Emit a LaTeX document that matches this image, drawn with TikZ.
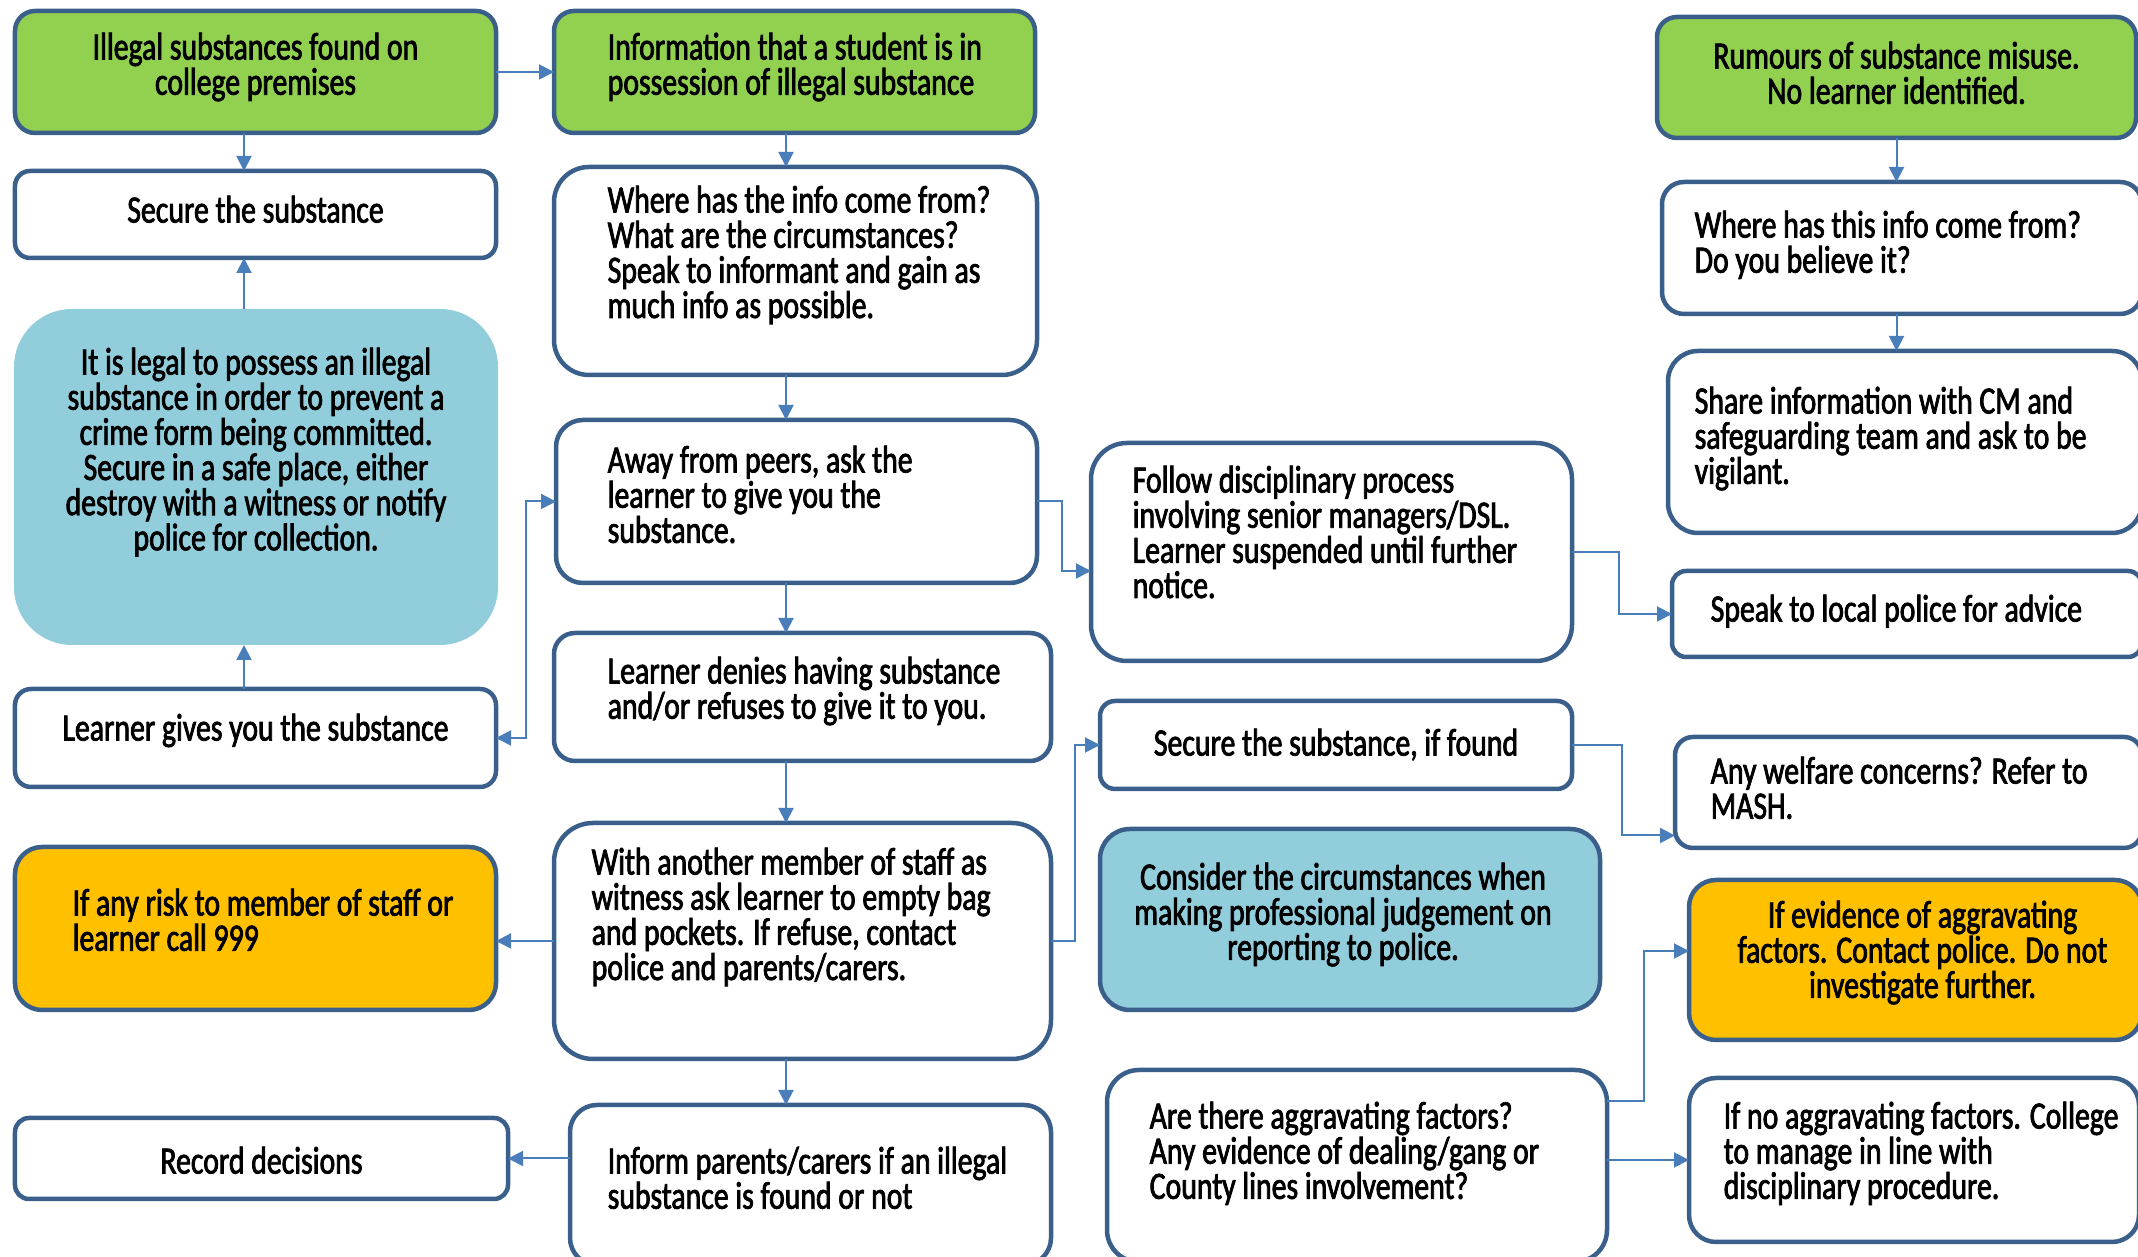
\documentclass[tikz,border=0pt]{standalone}
\usepackage{fontspec}
\newfontfamily\chartfont{Carlito}[FakeStretch=0.77, FakeBold=2]
\usepackage{tikz}
\usetikzlibrary{positioning,arrows.meta}
\definecolor{boxline}{HTML}{3A5F8B}
\definecolor{lnk}{HTML}{4A7EBB}
\definecolor{grn}{HTML}{92D050}
\definecolor{cyn}{HTML}{92CDDC}
\definecolor{amb}{HTML}{FFC000}

\begin{document}
\begin{tikzpicture}[bx/.style={draw=boxline, line width=0.045cm, fill=white, anchor=north west, inner sep=0pt, outer sep=0pt}, gr/.style={fill=grn}, bl/.style={fill=cyn}, am/.style={fill=amb}, tx/.style={inner sep=0pt, font=\chartfont\fontsize{11pt}{10pt}\selectfont}, ar/.style={draw=lnk, line width=0.02cm, -{Triangle[length=0.15cm, width=0.15cm]}}, ar2/.style={draw=lnk, line width=0.02cm, {Triangle[length=0.15cm, width=0.15cm]}-{Triangle[length=0.15cm, width=0.15cm]}}]
		\useasboundingbox (0,0) rectangle (21.38,-12.57);
		\clip (0,0) rectangle (21.38,-12.57);
		\coordinate (ax1) at (2.44,0);
		\coordinate (ax2) at (7.86,0);

		\node[bx, gr, minimum width=4.81cm, minimum height=1.22cm, rounded corners=0.2cm] (ill) at (0.15,-0.11) {};
		\node[tx, align=center, below=0.21cm of ill.north] (illT) {Illegal substances found on\\college premises};
		\node[bx, minimum width=4.81cm, minimum height=0.87cm, rounded corners=0.15cm] (sec) at (0.15,-1.71) {};
		\node[tx, below=0.24cm of sec.north] (secT) {Secure the substance};
		\node[bx, bl, draw=none, minimum width=4.84cm, minimum height=3.36cm, rounded corners=0.58cm] (legal) at (0.14,-3.09) {};
		\node[tx, align=center, below=0.38cm of legal.north] (legalT) {It is legal to possess an illegal\\substance in order to prevent a\\crime form being committed.\\Secure in a safe place, either\\destroy with a witness or notify\\police for collection.};
		\node[bx, minimum width=4.81cm, minimum height=0.98cm, rounded corners=0.16cm] (gives) at (0.15,-6.89) {};
		\node[tx, below=0.24cm of gives.north] (givesT) {Learner gives you the substance};
		\node[bx, am, minimum width=4.81cm, minimum height=1.63cm, rounded corners=0.27cm] (risk) at (0.15,-8.47) {};
		\node[tx, align=left, below right=0.41cm and 0.57cm of risk.north west] (riskT) {If any risk to member of staff or\\learner call 999};
		\node[bx, minimum width=4.93cm, minimum height=0.81cm, rounded corners=0.14cm] (record) at (0.15,-11.18) {};
		\node[tx, below=0.28cm of record.north] (recordT) {Record decisions};

		\node[bx, gr, minimum width=4.81cm, minimum height=1.22cm, rounded corners=0.2cm] (info) at (5.54,-0.11) {};
		\node[tx, align=left, below right=0.21cm and 0.53cm of info.north west] (infoT) {Information that a student is in\\possession of illegal substance};
		\node[bx, minimum width=4.83cm, minimum height=2.08cm, rounded corners=0.35cm] (where) at (5.54,-1.67) {};
		\node[tx, align=left, below right=0.18cm and 0.53cm of where.north west] (whereT) {Where has the info come from?\\What are the circumstances?\\Speak to informant and gain as\\much info as possible.};
		\node[bx, minimum width=4.81cm, minimum height=1.63cm, rounded corners=0.27cm] (away) at (5.56,-4.2) {};
		\node[tx, align=left, below right=0.25cm and 0.51cm of away.north west] (awayT) {Away from peers, ask the\\learner to give you the\\substance.};
		\node[bx, minimum width=4.97cm, minimum height=1.28cm, rounded corners=0.21cm] (denies) at (5.54,-6.33) {};
		\node[tx, align=left, below right=0.23cm and 0.53cm of denies.north west] (deniesT) {Learner denies having substance\\and/or refuses to give it to you.};
		\node[bx, minimum width=4.97cm, minimum height=2.36cm, rounded corners=0.39cm] (with) at (5.54,-8.23) {};
		\node[tx, align=left, below right=0.24cm and 0.37cm of with.north west] (withT) {With another member of staff as\\witness ask learner to empty bag\\and pockets. If refuse, contact\\police and parents/carers.};
		\node[bx, minimum width=4.81cm, minimum height=1.6cm, rounded corners=0.27cm] (inform) at (5.7,-11.05) {};
		\node[tx, align=left, below right=0.41cm and 0.37cm of inform.north west] (informT) {Inform parents/carers if an illegal\\substance is found or not};

		\node[bx, minimum width=4.81cm, minimum height=2.18cm, rounded corners=0.36cm] (follow) at (10.91,-4.43) {};
		\node[tx, align=left, below right=0.22cm and 0.41cm of follow.north west] (followT) {Follow disciplinary process\\involving senior managers/DSL.\\Learner suspended until further\\notice.};
		\node[bx, minimum width=4.72cm, minimum height=0.88cm, rounded corners=0.15cm] (sif) at (11,-7.01) {};
		\node[tx, below=0.27cm of sif.north] (sifT) {Secure the substance, if found};
		\node[bx, bl, minimum width=5cm, minimum height=1.81cm, rounded corners=0.3cm] (cons) at (11,-8.29) {};
		\node[tx, align=center, below=0.33cm of cons.north, xshift=-0.07cm] (consT) {Consider the circumstances when\\making professional judgement on\\reporting to police.};
		\node[bx, minimum width=5cm, minimum height=1.92cm, rounded corners=0.32cm] (are) at (11.07,-10.7) {};
		\node[tx, align=left, below right=0.31cm and 0.42cm of are.north west] (areT) {Are there aggravating factors?\\Any evidence of dealing/gang or\\County lines involvement?};

		\node[bx, gr, minimum width=4.79cm, minimum height=1.21cm, rounded corners=0.2cm] (rum) at (16.57,-0.17) {};
		\node[tx, align=center, below=0.24cm of rum.north] (rumT) {Rumours of substance misuse.\\No learner identified.};
		\node[bx, minimum width=4.8cm, minimum height=1.32cm, rounded corners=0.22cm] (wht) at (16.62,-1.82) {};
		\node[tx, align=left, below right=0.28cm and 0.32cm of wht.north west] (whtT) {Where has this info come from?\\Do you believe it?};
		\node[bx, minimum width=4.74cm, minimum height=1.82cm, rounded corners=0.3cm] (share) at (16.68,-3.51) {};
		\node[tx, align=left, below right=0.35cm and 0.26cm of share.north west] (shareT) {Share information with CM and\\safeguarding team and ask to be\\vigilant.};
		\node[bx, minimum width=4.7cm, minimum height=0.86cm, rounded corners=0.14cm] (speak) at (16.72,-5.71) {};
		\node[tx, below right=0.23cm and 0.38cm of speak.north west] (speakT) {Speak to local police for advice};
		\node[bx, minimum width=4.67cm, minimum height=1.11cm, rounded corners=0.18cm] (welf) at (16.75,-7.37) {};
		\node[tx, align=left, below right=0.19cm and 0.35cm of welf.north west] (welfT) {Any welfare concerns? Refer to\\MASH.};
		\node[bx, am, minimum width=4.53cm, minimum height=1.6cm, rounded corners=0.27cm] (evid) at (16.89,-8.8) {};
		\node[tx, align=center, below=0.2cm of evid.north, xshift=0.07cm] (evidT) {If evidence of aggravating\\factors. Contact police. Do not\\investigate further.};
		\node[bx, minimum width=4.5cm, minimum height=1.64cm, rounded corners=0.27cm] (ifno) at (16.89,-10.78) {};
		\node[tx, align=left, below right=0.23cm and 0.34cm of ifno.north west] (ifnoT) {If no aggravating factors. College\\to manage in line with\\disciplinary procedure.};

		\draw[ar] (ill.east) -- (info.west);
		\draw[ar] (ill.south -| ax1) -- (sec.north -| ax1);
		\draw[ar] (legal.north -| ax1) -- (sec.south -| ax1);
		\draw[ar] (gives.north -| ax1) -- (legal.south -| ax1);
		\draw[ar] (info.south -| ax2) -- (where.north -| ax2);
		\draw[ar] (where.south -| ax2) -- (away.north -| ax2);
		\draw[ar] (away.south -| ax2) -- (denies.north -| ax2);
		\draw[ar] (denies.south -| ax2) -- (with.north -| ax2);
		\draw[ar] (with.south -| ax2) -- (inform.north -| ax2);
		\draw[ar] (with.west) -- (with.west -| risk.east);
		\draw[ar] (inform.west |- record.east) -- (record.east);
		\draw[ar2] (gives.east) -- ++(0.3,0) |- (away.west);
		\draw[ar] (away.east) -- ++(0.25,0) |- ([yshift=-0.19cm]follow.west);
		\draw[ar] (with.east) -- ++(0.24,0) |- (sif.west);
		\draw[ar] (follow.east) -- ++(0.47,0) |- (speak.west);
		\draw[ar] (sif.east) -- ++(0.5,0) |- ([yshift=-0.43cm]welf.west);
		\draw[ar] ([yshift=0.65cm]are.east) -- ++(0.37,0) |- ([yshift=0.09cm]evid.west);
		\draw[ar] (ifno.west -| are.east) -- (ifno.west);
		\draw[ar] (rum.south) -- (rum.south |- wht.north);
		\draw[ar] (rum.south |- wht.south) -- (rum.south |- share.north);
	\end{tikzpicture}
\end{document}
